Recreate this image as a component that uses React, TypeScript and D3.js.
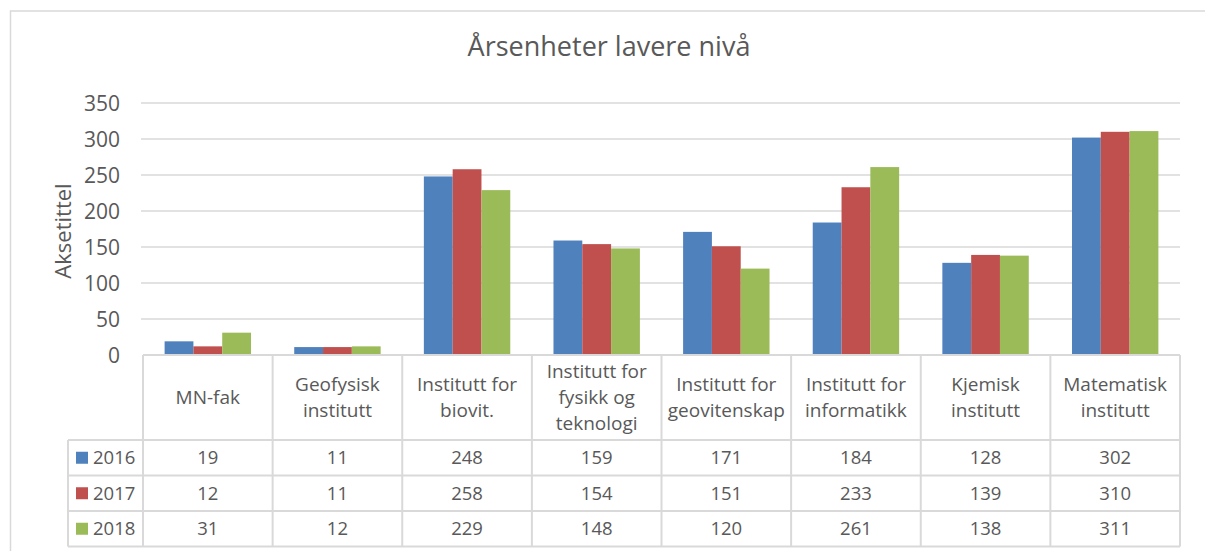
import React from 'react';
import * as d3 from 'd3';

const categories = [
  'MN-fak',
  'Geofysisk\ninstitutt',
  'Institutt for\nbiovit.',
  'Institutt for\nfysikk og\nteknologi',
  'Institutt for\ngeovitenskap',
  'Institutt for\ninformatikk',
  'Kjemisk\ninstitutt',
  'Matematisk\ninstitutt',
];
const years = ['2016', '2017', '2018'];
const values2016 = [19, 11, 248, 159, 171, 184, 128, 302];
const values2017 = [12, 11, 258, 154, 151, 233, 139, 310];
const values2018 = [31, 12, 229, 148, 120, 261, 138, 311];
const yTicks = [0, 50, 100, 150, 200, 250, 300, 350];
const colors = ['#4F81BD', '#C0504D', '#9BBB59'];

const title = 'Årsenheter lavere nivå';
const axisTitle = 'Aksetittel';

const FONT = '"Open Sans", sans-serif';
const TEXT = '#595959';
const LINE = '#d9d9d9';

const App = () => {
  const series = [values2016, values2017, values2018];

  const plot = { left: 143, right: 1180, top: 103, bottom: 355 };
  const table = { legendLeft: 68, headerBottom: 440, rowH: 35.5 };

  const x0 = d3.scaleBand().domain(categories).range([plot.left, plot.right]).padding(0);
  const x1 = d3.scaleBand().domain(years).range([0, x0.bandwidth()]).paddingInner(0).paddingOuter(0.75);
  const y = d3.scaleLinear().domain([0, 350]).range([plot.bottom, plot.top]);

  const rowTop = (i) => table.headerBottom + i * table.rowH;
  const tableBottom = rowTop(years.length);

  return (
    <svg width={1205} height={551} style={{ position: 'absolute', left: 0, top: 0 }} fontFamily={FONT}>
      <rect x={0} y={0} width={1205} height={551} fill="#fff" />
      <rect x={10.5} y={11} width={1230} height={600} fill="none" stroke={LINE} strokeWidth={1.5} />

      <text x={609} y={56} textAnchor="middle" fontSize={27} fill={TEXT}>{title}</text>

      {/* gridlines */}
      {yTicks.filter(t => t > 0).map(t => (
        <line key={t} x1={plot.left - 2} x2={plot.right} y1={y(t)} y2={y(t)} stroke={LINE} strokeWidth={1.5} />
      ))}
      {yTicks.map(t => (
        <text key={t} x={120} y={y(t)} dy="0.36em" textAnchor="end" fontSize={21} fill={TEXT}>{t}</text>
      ))}
      <text transform={`translate(71,${(plot.top + plot.bottom) / 2 + 2}) rotate(-90)`} textAnchor="middle" fontSize={22} fill={TEXT}>
        {axisTitle}
      </text>

      {/* bars */}
      {categories.map((c, ci) => (
        <g key={c} transform={`translate(${x0(c)},0)`}>
          {years.map((yr, si) => (
            <rect key={yr} x={x1(yr)} y={y(series[si][ci])} width={x1.bandwidth()}
              height={y(0) - y(series[si][ci])} fill={colors[si]} />
          ))}
        </g>
      ))}

      {/* data table */}
      <g stroke={LINE} strokeWidth={2}>
        <line x1={plot.left} x2={plot.right} y1={plot.bottom} y2={plot.bottom} />
        {years.map((yr, i) => (
          <line key={yr} x1={table.legendLeft} x2={plot.right} y1={rowTop(i)} y2={rowTop(i)} />
        ))}
        <line x1={table.legendLeft} x2={plot.right} y1={tableBottom} y2={tableBottom} />
        <line x1={table.legendLeft} x2={table.legendLeft} y1={table.headerBottom} y2={tableBottom} />
        {categories.map(c => (
          <line key={c} x1={x0(c)} x2={x0(c)} y1={plot.bottom} y2={tableBottom} />
        ))}
        <line x1={plot.right} x2={plot.right} y1={plot.bottom} y2={tableBottom} />
      </g>

      {categories.map(c => {
        const lines = c.split('\n');
        const lh = 26;
        const cy = (plot.bottom + table.headerBottom) / 2 - ((lines.length - 1) * lh) / 2;
        return (
          <text key={c} x={x0(c) + x0.bandwidth() / 2} textAnchor="middle" fontSize={19} fill={TEXT}>
            {lines.map((l, li) => (
              <tspan key={li} x={x0(c) + x0.bandwidth() / 2} y={cy + li * lh} dy="0.36em">{l}</tspan>
            ))}
          </text>
        );
      })}

      {years.map((yr, si) => {
        const cy = rowTop(si) + table.rowH / 2;
        return (
          <g key={yr}>
            <rect x={76} y={cy - 6} width={12} height={12} fill={colors[si]} />
            <text x={93} y={cy} dy="0.36em" fontSize={18.5} fill={TEXT}>{yr}</text>
            {categories.map((c, ci) => (
              <text key={c} x={x0(c) + x0.bandwidth() / 2} y={cy} dy="0.36em" textAnchor="middle" fontSize={18.5} fill={TEXT}>
                {series[si][ci]}
              </text>
            ))}
          </g>
        );
      })}
    </svg>
  );
};

export default App;
